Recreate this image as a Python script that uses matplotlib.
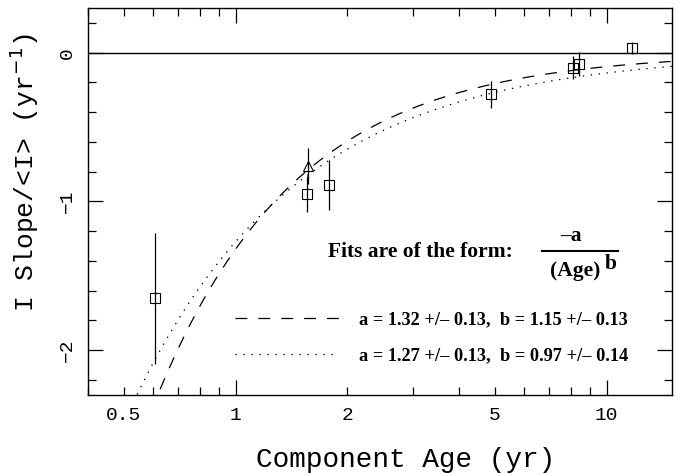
import numpy as np
import matplotlib
matplotlib.use("Agg")
import matplotlib.pyplot as plt
from matplotlib.ticker import FixedLocator, FuncFormatter, MultipleLocator

# component ages (yr) and normalized intensity slopes
age = [0.605, 1.56, 1.78, 4.88, 8.1, 8.4, 11.7]
slope = [-1.65, -0.95, -0.89, -0.28, -0.10, -0.075, 0.03]
slope_err = [0.44, 0.12, 0.17, 0.09, 0.08, 0.08, 0.04]

# triangle point
tri_age = [1.57]
tri_slope = [-0.76]
tri_err = [0.12]

# fit parameters: slope = -a / Age**b
fit_a = [1.32, 1.27]
fit_b = [1.15, 0.97]
fit_labels = ["a = 1.32 +/\u2013 0.13,  b = 1.15 +/\u2013 0.13",
              "a = 1.27 +/\u2013 0.13,  b = 0.97 +/\u2013 0.14"]

xmajor = [1, 10]
xminor = [0.4, 0.5, 0.6, 0.7, 0.8, 0.9, 2, 3, 4, 5, 6, 7, 8, 9]
xminor_labeled = [0.5, 2, 5]

mono = "Liberation Mono"
serif = "Liberation Serif"

fig = plt.figure(figsize=(6.9, 4.74), dpi=100)
ax = fig.add_axes([0.1275, 0.167, 0.8465, 0.816])

ax.set_xscale("log")
ax.set_xlim(0.4, 15)
ax.set_ylim(-2.3, 0.3)

ax.axhline(0, color="black", lw=1.0)

# fit curves
xx = np.geomspace(0.4, 15, 500)
styles = [dict(dashes=(9.5, 8.8)), dict(dashes=(1.1, 5.3))]
for a, b, lab, st in zip(fit_a, fit_b, fit_labels, styles):
    ax.plot(xx, -a / xx**b, color="black", lw=0.9, label=lab, **st)

# data
ax.errorbar(age, slope, yerr=slope_err, fmt="s", ms=6.5, mfc="none",
            mec="black", mew=0.8, ecolor="black", elinewidth=0.9, capsize=0)
ax.errorbar(tri_age, tri_slope, yerr=tri_err, fmt="^", ms=7, mfc="none",
            mec="black", mew=0.8, ecolor="black", elinewidth=0.9, capsize=0)

# ticks
ax.xaxis.set_major_locator(FixedLocator(xmajor))
ax.xaxis.set_minor_locator(FixedLocator(xminor))
ax.xaxis.set_major_formatter(FuncFormatter(lambda v, p: "%g" % v))
ax.xaxis.set_minor_formatter(FuncFormatter(
    lambda v, p: ("%g" % v) if any(abs(v - m) < 1e-9 for m in xminor_labeled) else ""))
ax.yaxis.set_major_locator(MultipleLocator(1))
ax.yaxis.set_minor_locator(MultipleLocator(0.2))
ax.yaxis.set_major_formatter(FuncFormatter(lambda v, p: "%d" % v if v >= 0 else "\u2212%d" % -v))

ax.tick_params(which="both", direction="in", top=True, right=True, width=0.9)
ax.tick_params(which="major", length=11, pad=9)
ax.tick_params(which="minor", length=6, pad=9)
for lbl in ax.get_xticklabels(which="both"):
    lbl.set_fontfamily(mono)
    lbl.set_fontsize(14)
for lbl in ax.get_yticklabels():
    lbl.set_fontfamily(mono)
    lbl.set_fontsize(14)
    lbl.set_rotation(90)
    lbl.set_va("center")
for sp in ax.spines.values():
    sp.set_linewidth(1.0)

ax.set_xlabel("Component Age (yr)", family=mono, fontsize=20)
ax.xaxis.set_label_coords(0.543, -0.135)
ax.set_ylabel("I Slope/<I> (yr$^{-1}$)", family=mono, fontsize=19)
ax.yaxis.set_label_coords(-0.08, 0.576)

# fit description
ax.text(0.411, 0.3695, "Fits are of the form:", transform=ax.transAxes,
        family=serif, weight="bold", fontsize=15.5, ha="left", va="center")
ax.text(0.827, 0.41, "\u2013a", transform=ax.transAxes,
        family=serif, weight="bold", fontsize=15.5, ha="center", va="center")
ax.plot([0.777, 0.908], [0.372, 0.372], transform=ax.transAxes, color="black", lw=1.5)
ax.text(0.834, 0.320, "(Age)", transform=ax.transAxes,
        family=serif, weight="bold", fontsize=15.5, ha="center", va="center")
ax.text(0.895, 0.338, "b", transform=ax.transAxes,
        family=serif, weight="bold", fontsize=15.5, ha="center", va="center")

ax.legend(loc="center left", bbox_to_anchor=(0.252, 0.1475), frameon=False,
          borderpad=0, borderaxespad=0, handlelength=5.65, handletextpad=1.1,
          labelspacing=1.0, prop=dict(family=serif, weight="bold", size=13.2))

fig.savefig("out.png", dpi=100)
